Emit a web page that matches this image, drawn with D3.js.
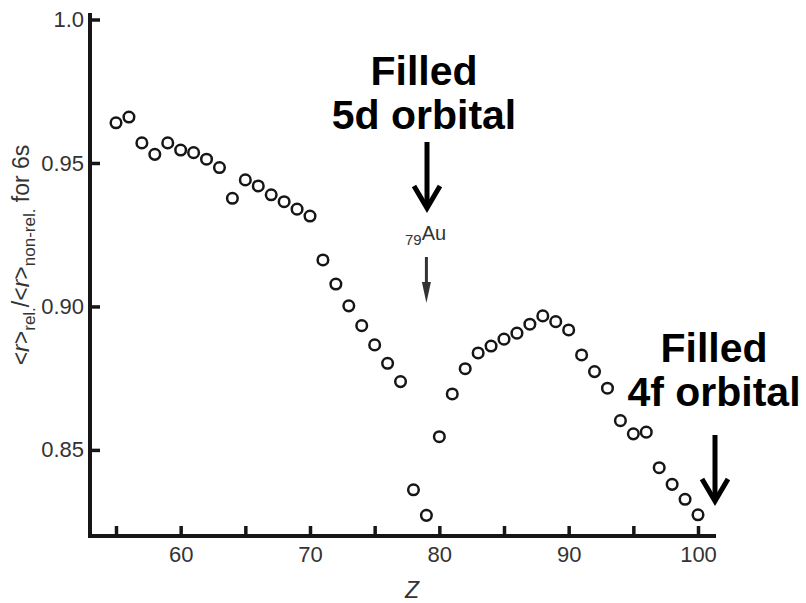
<!DOCTYPE html>
<html>
<head>
<meta charset="utf-8">
<script src="https://d3js.org/d3.v7.min.js"></script>
<style>
  body { margin: 0; background: #fff; }
  text { font-family: "Liberation Sans", Arial, Helvetica, sans-serif; }
</style>
</head>
<body>
<svg id="my_dataviz" width="806" height="603"></svg>
<script>
// atomic number Z
var atomicNumbers = [55, 56, 57, 58, 59, 60, 61, 62, 63, 64, 65, 66, 67, 68, 69, 70,
    71, 72, 73, 74, 75, 76, 77, 78, 79, 80, 81, 82, 83, 84, 85, 86, 87, 88, 89, 90,
    91, 92, 93, 94, 95, 96, 97, 98, 99, 100];
// <r>rel / <r>non-rel for 6s
var radiusRatio = [0.964, 0.966, 0.957, 0.953, 0.957, 0.9545, 0.9536, 0.9513, 0.9484, 0.9377,
    0.9441, 0.9420, 0.9389, 0.9365, 0.9339, 0.9315,
    0.9162, 0.9078, 0.9002, 0.8933, 0.8866, 0.8802, 0.8738, 0.8361, 0.8272, 0.8546,
    0.8695, 0.8783, 0.8838, 0.8862, 0.8886, 0.8907, 0.8938, 0.8967, 0.8947, 0.8918,
    0.8831, 0.8773, 0.8715, 0.8602, 0.8556, 0.8562, 0.8438, 0.8380, 0.8328, 0.8274];
var xTicks = [55, 60, 65, 70, 75, 80, 85, 90, 95, 100];
var xTickLabels = ["", "60", "", "70", "", "80", "", "90", "", "100"];
var yTicks = [0.85, 0.90, 0.95, 1.0];
var yTickLabels = ["0.85", "0.90", "0.95", "1.0"];

var svg = d3.select("svg");
var ink = "#161616", grey = "#333";

var x = d3.scaleLinear().domain([55, 100]).range([116, 698]);
var y = d3.scaleLinear().domain([0.82, 1.0]).range([536, 19.5]);

// axes, ticks pointing inward
var xAxis = svg.append("g")
    .attr("transform", "translate(0,536)")
    .call(d3.axisBottom(x).tickValues(xTicks).tickSize(-10).tickPadding(10)
        .tickFormat(function (d, i) { return xTickLabels[i] }));
var yAxis = svg.append("g")
    .attr("transform", "translate(90,0)")
    .call(d3.axisLeft(y).tickValues(yTicks).tickSize(-10).tickPadding(6)
        .tickFormat(function (d, i) { return yTickLabels[i] }));

[xAxis, yAxis].forEach(function (g) {
    g.select(".domain").remove();
    g.selectAll(".tick line").attr("stroke", ink).attr("stroke-width", 3.5);
    g.selectAll(".tick text").attr("fill", grey).style("font-size", "22px")
        .attr("font-family", null);
});

svg.append("line").attr("x1", 90).attr("x2", 90).attr("y1", 13).attr("y2", 538)
    .attr("stroke", ink).attr("stroke-width", 4);
svg.append("line").attr("x1", 88).attr("x2", 716).attr("y1", 536).attr("y2", 536)
    .attr("stroke", ink).attr("stroke-width", 4);

// data points
svg.append("g")
    .selectAll("circle")
    .data(atomicNumbers)
    .enter()
    .append("circle")
    .attr("cx", function (d) { return x(d) })
    .attr("cy", function (d, i) { return y(radiusRatio[i]) })
    .attr("r", 5.3)
    .attr("fill", "none")
    .attr("stroke", ink)
    .attr("stroke-width", 2.5);

// axis titles
svg.append("text")
    .attr("x", 412).attr("y", 598)
    .attr("text-anchor", "middle")
    .attr("fill", grey)
    .style("font-size", "23px")
    .style("font-style", "italic")
    .text("Z");

var yLab = svg.append("text")
    .attr("transform", "translate(29,255) rotate(-90)")
    .attr("text-anchor", "middle")
    .attr("fill", grey)
    .style("font-size", "23px");
yLab.append("tspan").text("<");
yLab.append("tspan").style("font-style", "italic").text("r");
yLab.append("tspan").text(">");
yLab.append("tspan").attr("dy", 6).style("font-size", "17px").text("rel.");
yLab.append("tspan").attr("dy", -6).text("/<");
yLab.append("tspan").style("font-style", "italic").text("r");
yLab.append("tspan").text(">");
yLab.append("tspan").attr("dy", 6).style("font-size", "17px").text("non-rel.");
yLab.append("tspan").attr("dy", -6).text(" for 6s");

// 79Au marker
var au = svg.append("text").attr("x", 405).attr("y", 240).attr("fill", grey);
au.append("tspan").attr("dy", 5).style("font-size", "15px").text("79");
au.append("tspan").attr("dy", -5).style("font-size", "20px").text("Au");

svg.append("line").attr("x1", x(79)).attr("x2", x(79)).attr("y1", 257).attr("y2", 288)
    .attr("stroke", grey).attr("stroke-width", 3);
svg.append("path")
    .attr("d", d3.line()([[x(79) - 4.5, 282], [x(79), 303], [x(79) + 4.5, 282]]))
    .attr("fill", grey);

// bold annotations with arrows
function note(cx, y1, lines) {
    var t = svg.append("text")
        .attr("text-anchor", "middle")
        .attr("fill", "#000")
        .style("font-size", "41px")
        .style("font-weight", "bold");
    lines.forEach(function (s, i) {
        t.append("tspan").attr("x", cx).attr("y", y1 + i * 44).text(s);
    });
}
function arrow(ax, a0, a1) {
    svg.append("line").attr("x1", ax).attr("x2", ax).attr("y1", a0).attr("y2", a1 - 2)
        .attr("stroke", "#000").attr("stroke-width", 5);
    svg.append("path")
        .attr("d", d3.line()([[ax - 13, a1 - 22], [ax, a1], [ax + 13, a1 - 22]]))
        .attr("fill", "none").attr("stroke", "#000").attr("stroke-width", 5)
        .attr("stroke-linejoin", "miter");
}
note(424, 85, ["Filled", "5d orbital"]);
arrow(427, 142, 208);
note(714, 362, ["Filled", "4f orbital"]);
arrow(715, 435, 501);
</script>
</body>
</html>
